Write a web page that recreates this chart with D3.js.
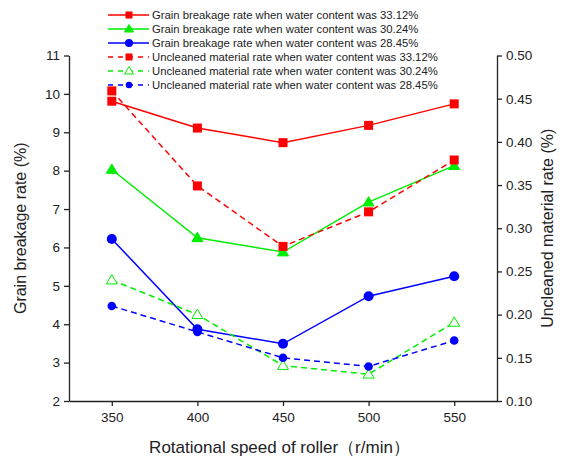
<!DOCTYPE html>
<html><head><meta charset="utf-8">
<script src="https://cdn.jsdelivr.net/npm/d3@7"></script>
<style>body{margin:0;background:#fff;} text{font-family:Arial,"Liberation Sans",sans-serif;}</style>
</head><body><svg id="c" width="566" height="458"></svg>
<script>
const speeds = [350, 400, 450, 500, 550];
const breakage3312 = [9.81, 9.11, 8.73, 9.18, 9.74];
const breakage3024 = [8.03, 6.25, 5.88, 7.18, 8.13];
const breakage2845 = [6.22, 3.87, 3.49, 4.73, 5.25];
const uncleaned3312 = [0.459, 0.349, 0.279, 0.319, 0.379];
const uncleaned3024 = [0.240, 0.200, 0.141, 0.131, 0.191];
const uncleaned2845 = [0.210, 0.180, 0.150, 0.140, 0.170];
const leftTicks = [2,3,4,5,6,7,8,9,10,11];
const rightTicks = [0.10,0.15,0.20,0.25,0.30,0.35,0.40,0.45,0.50];
const seriesNames = [
 "Grain breakage rate when water content was 33.12%",
 "Grain breakage rate when water content was 30.24%",
 "Grain breakage rate when water content was 28.45%",
 "Uncleaned material rate when water content was 33.12%",
 "Uncleaned material rate when water content was 30.24%",
 "Uncleaned material rate when water content was 28.45%"
];

const svg = d3.select("#c");
const L = 69, R = 497, T = 55.5, B = 401;
const x = d3.scaleLinear().domain([325, 575]).range([L, R]);
const yL = d3.scaleLinear().domain([2, 11]).range([B, T]);
const yR = d3.scaleLinear().domain([0.10, 0.50]).range([B, T]);

const series = [
 {name: seriesNames[0], vals: breakage3312, y: yL, color: "#ff0000", marker: "square", dash: null, fill: true},
 {name: seriesNames[1], vals: breakage3024, y: yL, color: "#00ee00", marker: "triangle", dash: null, fill: true},
 {name: seriesNames[2], vals: breakage2845, y: yL, color: "#0000ff", marker: "circle", dash: null, fill: true},
 {name: seriesNames[3], vals: uncleaned3312, y: yR, color: "#ff0000", marker: "square", dash: "6,4", fill: true},
 {name: seriesNames[4], vals: uncleaned3024, y: yR, color: "#00ee00", marker: "triangle", dash: "6,4", fill: false},
 {name: seriesNames[5], vals: uncleaned2845, y: yR, color: "#0000ff", marker: "circle", dash: "6,4", fill: true, small: true}
];

function drawMarker(g, type, cx, cy, color, fill, small) {
  if (type === "square") {
    g.append("rect").attr("x", cx-4.5).attr("y", cy-4.5).attr("width", 9).attr("height", 9)
      .attr("fill", color);
  } else if (type === "triangle") {
    const s = 5.5;
    g.append("path").attr("d", `M${cx},${cy-s}L${cx+s},${cy+s*0.7}L${cx-s},${cy+s*0.7}Z`)
      .attr("fill", fill ? color : "#fff").attr("stroke", color).attr("stroke-width", 1);
  } else {
    g.append("circle").attr("cx", cx).attr("cy", cy).attr("r", small ? 4.3 : 5).attr("fill", color);
  }
}

// axes
const ax = svg.append("g").attr("transform", `translate(0,${B})`)
  .call(d3.axisBottom(x).tickValues(speeds).tickSize(5).tickPadding(6).tickSizeOuter(0));
const al = svg.append("g").attr("transform", `translate(${L},0)`)
  .call(d3.axisLeft(yL).tickValues(leftTicks).tickSize(5).tickPadding(4).tickSizeOuter(0));
const ar = svg.append("g").attr("transform", `translate(${R},0)`)
  .call(d3.axisRight(yR).tickValues(rightTicks).tickFormat(d3.format(".2f")).tickSize(5).tickPadding(4).tickSizeOuter(0));
[ax, al, ar].forEach(a => {
  a.selectAll("path,line").attr("stroke", "#222").attr("stroke-width", 1.3);
  a.selectAll("text").attr("font-size", 13.5).attr("fill", "#222").attr("font-family", "Arial, 'Liberation Sans', sans-serif");
});

// lines and markers
series.forEach(s => {
  const line = d3.line().x((d, i) => x(speeds[i])).y(d => s.y(d));
  svg.append("path").datum(s.vals).attr("d", line).attr("fill", "none")
    .attr("stroke", s.color).attr("stroke-width", 1.5).attr("stroke-dasharray", s.dash);
  const g = svg.append("g");
  s.vals.forEach((v, i) => drawMarker(g, s.marker, x(speeds[i]), s.y(v), s.color, s.fill, s.small));
});

// legend
const lg = svg.append("g");
series.forEach((s, i) => {
  const yy = 15 + i * 14;
  lg.append("line").attr("x1", 108).attr("x2", 149).attr("y1", yy).attr("y2", yy)
    .attr("stroke", s.color).attr("stroke-width", 1.5).attr("stroke-dasharray", s.dash ? "5,5" : null);
  const gm = lg.append("g");
  if (s.marker === "square") gm.append("rect").attr("x", 125.5).attr("y", yy-3.5).attr("width", 7).attr("height", 7).attr("fill", s.color);
  else if (s.marker === "triangle") gm.append("path").attr("d", `M129,${yy-4.5}L133.5,${yy+3}L124.5,${yy+3}Z`).attr("fill", s.fill ? s.color : "#fff").attr("stroke", s.color);
  else gm.append("circle").attr("cx", 129).attr("cy", yy).attr("r", s.small ? 3.3 : 4).attr("fill", s.color);
  lg.append("text").attr("x", 152).attr("y", yy + 4).attr("font-size", 11.3).attr("fill", "#222").text(s.name);
});

// axis titles
svg.append("text").attr("transform", `translate(26,${(T+B)/2}) rotate(-90)`).attr("text-anchor", "middle")
  .attr("font-size", 16).attr("fill", "#222").text("Grain breakage rate (%)");
svg.append("text").attr("transform", `translate(553,${(T+B)/2}) rotate(-90)`).attr("text-anchor", "middle")
  .attr("font-size", 16).attr("fill", "#222").text("Uncleaned material rate (%)");
svg.append("text").attr("x", 279.5).attr("y", 453).attr("text-anchor", "middle")
  .attr("font-size", 17).attr("fill", "#222").text("Rotational speed of roller（r/min）");
</script></body></html>
